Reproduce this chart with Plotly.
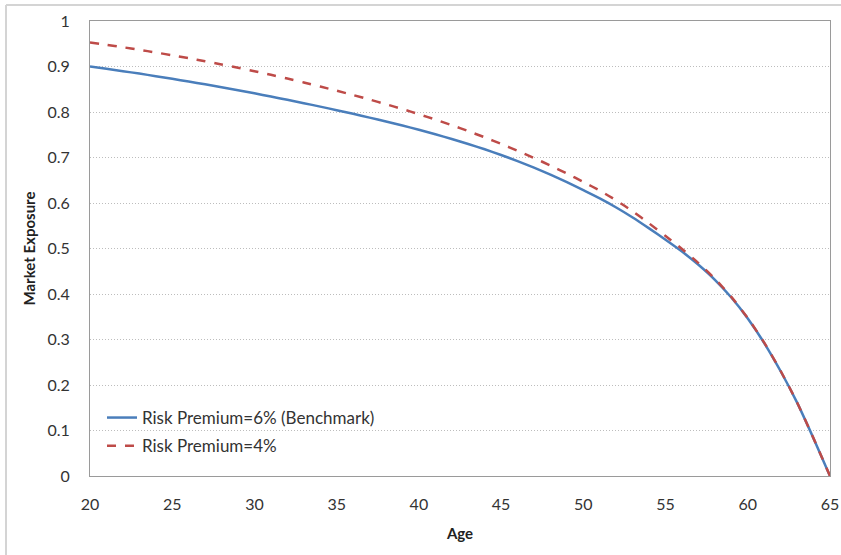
import plotly.graph_objects as go

ages = list(range(20, 66))
benchmark_6pct = [
    0.9000, 0.8950, 0.8898, 0.8844, 0.8788, 0.8730, 0.8670, 0.8608, 0.8544, 0.8478,
    0.8410, 0.8340, 0.8268, 0.8194, 0.8118, 0.8040, 0.7960, 0.7877, 0.7791, 0.7702,
    0.7609, 0.7511, 0.7407, 0.7297, 0.7180, 0.7055, 0.6921, 0.6777, 0.6623, 0.6458,
    0.6282, 0.6102, 0.5902, 0.5682, 0.5442, 0.5192, 0.4932, 0.4642, 0.4312, 0.3922,
    0.3462, 0.2922, 0.2302, 0.1612, 0.0825, 0.0000,
]
premium_4pct = [
    0.9530, 0.9478, 0.9424, 0.9367, 0.9308, 0.9247, 0.9183, 0.9116, 0.9046, 0.8973,
    0.8897, 0.8818, 0.8735, 0.8649, 0.8560, 0.8468, 0.8373, 0.8274, 0.8171, 0.8064,
    0.7952, 0.7834, 0.7710, 0.7580, 0.7443, 0.7299, 0.7148, 0.6989, 0.6823, 0.6648,
    0.6463, 0.6272, 0.6057, 0.5817, 0.5552, 0.5275, 0.4990, 0.4680, 0.4336, 0.3937,
    0.3472, 0.2930, 0.2308, 0.1616, 0.0827, 0.0000,
]
x_ticks = [20, 25, 30, 35, 40, 45, 50, 55, 60, 65]
y_ticks = [0, 0.1, 0.2, 0.3, 0.4, 0.5, 0.6, 0.7, 0.8, 0.9, 1]
y_tick_text = ["0", "0.1", "0.2", "0.3", "0.4", "0.5", "0.6", "0.7", "0.8", "0.9", "1"]

FONT = "Lato, Noto Sans, sans-serif"

fig = go.Figure()
fig.add_trace(go.Scatter(
    x=ages, y=benchmark_6pct, mode="lines",
    name="Risk Premium=6% (Benchmark)", legendgroup="a",
    line=dict(color="#4A7EBB", width=2.5, shape="spline", smoothing=0.6),
))
fig.add_trace(go.Scatter(
    x=ages, y=premium_4pct, mode="lines",
    name="Risk Premium=4%", legendgroup="b",
    line=dict(color="#BE4B48", width=2.5, dash="dash", shape="spline", smoothing=0.6),
))

W, H = 841, 555
L, R, T, B = 90, 11, 21, 79
pw, ph = W - L - R, H - T - B

def px2paper_x(px):
    return (px - L) / pw

def px2paper_y(py):
    return (H - B - py) / ph

# outer chart frame (only top and left edges are visible in the reference)
fig.add_shape(type="line", xref="paper", yref="paper",
              x0=px2paper_x(6), x1=px2paper_x(845),
              y0=px2paper_y(5), y1=px2paper_y(5),
              line=dict(color="#d4d4d4", width=2), layer="below")
fig.add_shape(type="line", xref="paper", yref="paper",
              x0=px2paper_x(6), x1=px2paper_x(6),
              y0=px2paper_y(5), y1=px2paper_y(560),
              line=dict(color="#d4d4d4", width=2), layer="below")

fig.update_layout(
    width=W, height=H,
    margin=dict(l=L, r=R, t=T, b=B, autoexpand=False),
    paper_bgcolor="white", plot_bgcolor="white",
    font=dict(family=FONT, color="#333333", size=16),
    showlegend=True,
    legend=dict(x=px2paper_x(102), y=px2paper_y(400), xanchor="left", yanchor="top",
                bgcolor="rgba(0,0,0,0)", font=dict(size=17, color="#333333"),
                traceorder="grouped", tracegroupgap=3),
    xaxis=dict(
        range=[20, 65], tickmode="array", tickvals=x_ticks,
        showgrid=False, zeroline=False, automargin=False,
        showline=True, linecolor="#9a9a9a", linewidth=1, mirror=True,
        ticks="", ticklabelstandoff=14, tickfont=dict(size=16),
        title=dict(text="<b>Age</b>", font=dict(size=15, color="#222222"), standoff=16),
    ),
    yaxis=dict(
        range=[0, 1], tickmode="array", tickvals=y_ticks, ticktext=y_tick_text,
        showgrid=True, gridcolor="#bdbdbd", griddash="1px,2px", gridwidth=1,
        zeroline=False, automargin=False,
        showline=True, linecolor="#9a9a9a", linewidth=1, mirror=True,
        ticks="", ticklabelstandoff=16, tickfont=dict(size=16),
        title=dict(text="<b>Market Exposure</b>", font=dict(size=15, color="#222222"), standoff=8),
    ),
)

fig.write_html(
    "out.html",
    config={"displayModeBar": False},
    post_script="document.body.style.margin='0';document.body.style.overflow='hidden';",
)
